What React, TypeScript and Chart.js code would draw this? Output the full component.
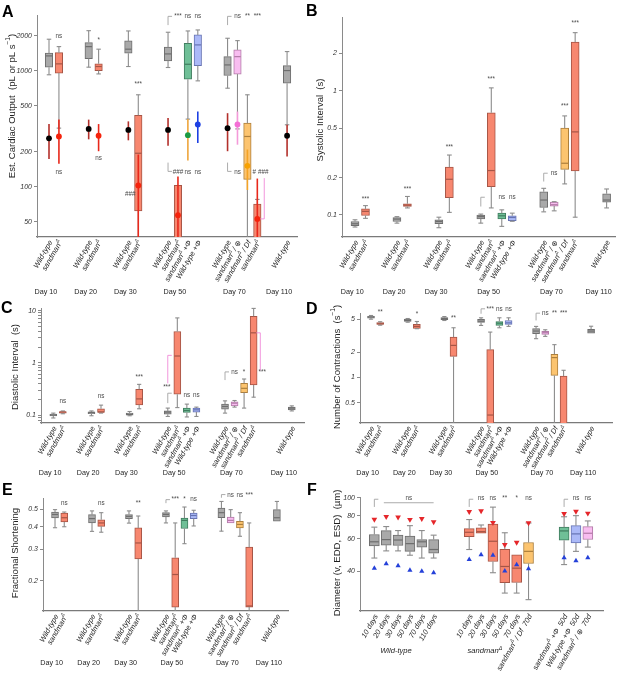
import React, { useEffect, useRef } from 'react';
import { Chart, registerables } from 'chart.js';

Chart.register(...registerables);

const FONT = '"Liberation Sans", Arial, Helvetica, "DejaVu Sans", sans-serif';
const _ = null;

// ---------- categories (shared by panels A, B, D, E) ----------
const DAY_CATS = ['Wild-type', 'sandman{Δ}', '', '', 'Wild-type', 'sandman{Δ}', '', '', 'Wild-type', 'sandman{Δ}', '', '',
  'Wild-type', 'sandman{Δ}', 'sandman{Δ} +Φ', 'Wild-type +Φ', '', '', 'Wild-type', 'sandman{Δ} / ⊕', 'sandman{Δ} / Df', 'sandman{Δ}', '', '', 'Wild-type'];
const DAY_GENO = ['wt', 'sand', _, _, 'wt', 'sand', _, _, 'wt', 'sand', _, _, 'wt', 'sand', 'sandPhi', 'wtPhi', _, _, 'wt', 'sandPlus', 'sandDf', 'sand', _, _, 'wt'];
const DAY_GROUPS = ['Day 10', 'Day 20', 'Day 30', 'Day 50', 'Day 70', 'Day 110'];
const DAY_G_FIRST = [0, 4, 8, 12, 18, 24];
const DAY_G_LAST = [1, 5, 9, 15, 21, 24];
// panel C has one extra gap before Day 110
const C_CATS = ['Wild-type', 'sandman{Δ}', '', '', 'Wild-type', 'sandman{Δ}', '', '', 'Wild-type', 'sandman{Δ}', '', '',
  'Wild-type', 'sandman{Δ}', 'sandman{Δ} +Φ', 'Wild-type +Φ', '', '', 'Wild-type', 'sandman{Δ} / ⊕', 'sandman{Δ} / Df', 'sandman{Δ}', '', '', '', 'Wild-type'];
const C_GENO = ['wt', 'sand', _, _, 'wt', 'sand', _, _, 'wt', 'sand', _, _, 'wt', 'sand', 'sandPhi', 'wtPhi', _, _, 'wt', 'sandPlus', 'sandDf', 'sand', _, _, _, 'wt'];
const C_G_FIRST = [0, 4, 8, 12, 18, 25];
const C_G_LAST = [1, 5, 9, 15, 21, 25];

// ---------- A: cardiac output (box) + stroke volume (dot) ----------
const A_TICKS = [50, 100, 200, 500, 1000, 2000];
const A_MIN = [925, 321, _, _, 1076, 941, _, _, 1090, 20, _, _, 1069, 20, 384, 820, _, _, 709, 316, 20, 20, _, _, 343];
const A_Q1 = [1076, 957, _, _, 1276, 1006, _, _, 1420, 62, _, _, 1221, 20, 848, 1110, _, _, 912, 938, 116, 20, _, _, 784];
const A_MED = [1346, 1149, _, _, 1618, 1090, _, _, 1538, 195, _, _, 1400, 25, 1140, 1674, _, _, 1125, 1326, 272, 25, _, _, 1006];
const A_Q3 = [1420, 1436, _, _, 1752, 1149, _, _, 1812, 414, _, _, 1600, 103, 1730, 2040, _, _, 1326, 1516, 354, 71, _, _, 1110];
const A_MAX = [1874, 1618, _, _, 2220, 1538, _, _, 2208, 622, _, _, 2152, 103, 2208, 2252, _, _, 1910, 1822, 622, 78, _, _, 1466];
const A_SV = [262, 272, _, _, 316, 276, _, _, 310, 103, _, _, 310, 57, 279, 345, _, _, 321, 345, 152, 53, _, _, 276];
const A_SV_LO = [174, 158, _, _, 257, 203, _, _, 252, 20, _, _, 226, 20, 169, 239, _, _, 203, 231, 94, 20, _, _, 183];
const A_SV_HI = [348, 380, _, _, 380, 348, _, _, 367, 190, _, _, 392, 123, 384, 446, _, _, 432, 446, 210, 118, _, _, 343];
const A_SIG_AT = [1, 5, 9, 13, 14, 15, 19, 20, 21, 1, 5, 8.2, 13, 14, 15, 19, 20.7, 21.6];
const A_SIG_V = [2000, 1822, 770, 2950, 2950, 2950, 2950, 2950, 2950, 133, 175, 86, 135, 135, 135, 133, 133, 133];
const A_SIG_T = ['ns', '*', '***', '***', 'ns', 'ns', 'ns', '**', '***', 'ns', 'ns', '###', '###', 'ns', 'ns', 'ns', '#', '###'];
const A_BR_AT = [12, 18, 12, 18, 21.7];
const A_BR_FROM = [2480, 2480, 162, 162, 119];
const A_BR_TO = [2950, 2950, 136, 136, 53];
const A_BR_DIR = [1, 1, 1, 1, -1];
const A_BR_KIND = ['g', 'g', 'g', 'g', 'p'];

// ---------- B: systolic interval ----------
const B_TICKS = [0.1, 0.2, 0.5, 1, 2];
const B_MIN = [0.080, 0.094, _, _, 0.086, 0.114, _, _, 0.079, 0.105, _, _, 0.086, 0.114, 0.081, 0.089, _, _, 0.106, 0.108, 0.178, 0.096, _, _, 0.114];
const B_Q1 = [0.082, 0.099, _, _, 0.0887, 0.117, _, _, 0.085, 0.138, _, _, 0.093, 0.169, 0.093, 0.090, _, _, 0.115, 0.118, 0.233, 0.226, _, _, 0.127];
const B_MED = [0.085, 0.107, _, _, 0.0927, 0.120, _, _, 0.0887, 0.194, _, _, 0.097, 0.228, 0.0985, 0.0955, _, _, 0.132, 0.121, 0.261, 0.467, _, _, 0.132];
const B_Q3 = [0.0887, 0.112, _, _, 0.0955, 0.123, _, _, 0.0915, 0.243, _, _, 0.100, 0.665, 0.1035, 0.0985, _, _, 0.154, 0.127, 0.500, 2.47, _, _, 0.148];
const B_MAX = [0.0915, 0.119, _, _, 0.097, 0.141, _, _, 0.096, 0.304, _, _, 0.1017, 1.056, 0.110, 0.1035, _, _, 0.164, 0.128, 0.628, 2.94, _, _, 0.162];
const B_SIG_AT = [1, 5, 9, 13, 14, 15, 19, 20, 21];
const B_SIG_V = [0.135, 0.162, 0.348, 1.25, 0.139, 0.139, 0.218, 0.753, 3.47];
const B_SIG_T = ['***', '***', '***', '***', 'ns', 'ns', 'ns', '***', '***'];
const B_BR_AT = [12, 18];
const B_BR_FROM = [0.117, 0.186];
const B_BR_TO = [0.139, 0.217];
const B_BR_DIR = [1, 1];
const B_BR_KIND = ['g', 'g'];

// ---------- C: diastolic interval ----------
const C_TICKS = [0.1, 1, 10];
const C_MINOR = [0.08, 0.09, 0.2, 0.3, 0.4, 0.5, 0.6, 0.7, 0.8, 0.9, 2, 3, 4, 5, 6, 7, 8, 9];
const C_MIN = [0.088, 0.106, _, _, 0.097, 0.109, _, _, 0.097, 0.132, _, _, 0.094, 0.139, 0.092, 0.094, _, _, 0.109, 0.142, 0.136, 0.22, _, _, _, 0.12];
const C_Q1 = [0.096, 0.109, _, _, 0.106, 0.112, _, _, 0.1, 0.157, _, _, 0.104, 0.25, 0.112, 0.114, _, _, 0.13, 0.15, 0.269, 0.376, _, _, _, 0.126];
const C_MED = [0.1, 0.114, _, _, 0.112, 0.115, _, _, 0.103, 0.204, _, _, 0.114, 1.35, 0.122, 0.126, _, _, 0.146, 0.169, 0.325, 3.75, _, _, _, 0.136];
const C_Q3 = [0.105, 0.117, _, _, 0.115, 0.132, _, _, 0.109, 0.311, _, _, 0.12, 3.98, 0.136, 0.136, _, _, 0.162, 0.18, 0.405, 7.8, _, _, _, 0.142];
const C_MAX = [0.109, 0.12, _, _, 0.12, 0.155, _, _, 0.117, 0.387, _, _, 0.136, 7.24, 0.162, 0.142, _, _, 0.187, 0.19, 0.49, 11.0, _, _, _, 0.15];
const C_SIG_AT = [1, 5, 9, 11.9, 14, 15, 19, 20, 21.9];
const C_SIG_V = [0.181, 0.225, 0.54, 0.34, 0.243, 0.243, 0.67, 0.67, 0.67];
const C_SIG_T = ['ns', 'ns', '***', '***', 'ns', 'ns', 'ns', '*', '***'];
const C_BR_AT = [12, 12, 18, 21.7];
const C_BR_FROM = [0.405, 0.169, 0.468, 0.72];
const C_BR_TO = [1.39, 0.262, 0.67, 3.75];
const C_BR_DIR = [1, 1, 1, -1];
const C_BR_KIND = ['p', 'g', 'g', 'p'];

// ---------- D: number of contractions ----------
const D_TICKS = [0.5, 1, 2, 5];
const D_MIN = [4.98, 4.22, _, _, 4.58, 3.83, _, _, 4.8, 0.2, _, _, 4.19, 0.2, 3.93, 4.08, _, _, 2.91, 3.1, 0.2, 0.2, _, _, 3.39];
const D_Q1 = [5.13, 4.31, _, _, 4.67, 3.86, _, _, 4.9, 1.79, _, _, 4.54, 0.2, 4.19, 4.31, _, _, 3.34, 3.27, 1.06, 0.2, _, _, 3.39];
const D_MED = [5.27, 4.39, _, _, 4.8, 4.08, _, _, 5.07, 2.42, _, _, 4.71, 0.356, 4.46, 4.5, _, _, 3.59, 3.43, 1.73, 0.25, _, _, 3.59];
const D_Q3 = [5.4, 4.54, _, _, 4.98, 4.31, _, _, 5.21, 3.04, _, _, 4.94, 2.15, 4.67, 4.8, _, _, 3.83, 3.56, 1.89, 1.04, _, _, 3.76];
const D_MAX = [5.51, 4.64, _, _, 5.07, 4.67, _, _, 5.35, 3.93, _, _, 5.17, 3.49, 5.17, 5.17, _, _, 4.08, 3.72, 2.47, 1.22, _, _, 4.1];
const D_SIG_AT = [1, 5, 9, 13, 14, 15, 19, 20, 21];
const D_SIG_V = [5.94, 5.66, 5.07, 6.62, 6.62, 6.62, 5.87, 5.87, 5.87];
const D_SIG_T = ['**', '*', '**', '***', 'ns', 'ns', 'ns', '**', '***'];
const D_BR_AT = [12, 18];
const D_BR_FROM = [5.78, 4.81];
const D_BR_TO = [6.62, 5.87];
const D_BR_DIR = [1, 1];
const D_BR_KIND = ['g', 'g'];

// ---------- E: fractional shortening ----------
const E_TICKS = [0.2, 0.3, 0.4, 0.5];
const E_MIN = [0.395, 0.4, _, _, 0.377, 0.373, _, _, 0.419, 0.1, _, _, 0.42, 0.1, 0.322, 0.404, _, _, 0.378, 0.42, 0.354, 0.1, _, _, 0.43];
const E_Q1 = [0.448, 0.425, _, _, 0.42, 0.402, _, _, 0.444, 0.265, _, _, 0.453, 0.143, 0.391, 0.444, _, _, 0.449, 0.42, 0.394, 0.143, _, _, 0.43];
const E_MED = [0.468, 0.449, _, _, 0.444, 0.42, _, _, 0.457, 0.325, _, _, 0.468, 0.217, 0.434, 0.462, _, _, 0.479, 0.434, 0.412, 0.145, _, _, 0.449];
const E_Q3 = [0.483, 0.477, _, _, 0.467, 0.437, _, _, 0.468, 0.394, _, _, 0.479, 0.269, 0.447, 0.477, _, _, 0.508, 0.453, 0.429, 0.308, _, _, 0.498];
const E_MAX = [0.498, 0.483, _, _, 0.49, 0.479, _, _, 0.49, 0.459, _, _, 0.49, 0.42, 0.515, 0.494, _, _, 0.553, 0.498, 0.479, 0.42, _, _, 0.553];
const E_SIG_AT = [1, 5, 9, 13, 14, 15, 19, 20, 21];
const E_SIG_V = [0.541, 0.541, 0.537, 0.566, 0.566, 0.566, 0.598, 0.598, 0.598];
const E_SIG_T = ['ns', 'ns', '**', '***', '*', 'ns', 'ns', 'ns', '***'];
const E_BR_AT = [12, 18];
const E_BR_FROM = [0.541, 0.58];
const E_BR_TO = [0.566, 0.604];
const E_BR_DIR = [1, 1];
const E_BR_KIND = ['g', 'g'];

// ---------- F: diameters ----------
const F_CATS = ['10 days', '20 days', '30 days', '50 days', '70 days', '110 days', '', '', '10 days', '20 days', '30 days', '50 days', '70 days',
  'sandman{Δ} / Df  70d', '', '', 'sandman{Δ} +Φ  50d', 'Wild-type +Φ  50d', 'sandman{Δ} / ⊕  70d'];
const F_GENO = ['wt', 'wt', 'wt', 'wt', 'wt', 'wt', _, _, 'sand', 'sand', 'sand', 'sand', 'sand', 'sandDf', _, _, 'sandPhi', 'wtPhi', 'sandPlus'];
const F_GROUPS = ['Wild-type', 'sandman{Δ}'];
const F_G_FIRST = [0, 8];
const F_G_LAST = [5, 12];
const F_TICKS = [40, 60, 80, 100];
const F_MIN = [47.1, 51.5, 51.5, 48.8, 47.1, 47.1, _, _, 52.4, 64.3, 39.2, 30.4, 30.4, 28.0, _, _, 43.4, 51.2, 54.0];
const F_Q1 = [54.8, 55.4, 55.1, 51.2, 54.0, 50.0, _, _, 61.5, 64.3, 45.1, 34.6, 34.7, 44.0, _, _, 58.8, 56.9, 59.4];
const F_MED = [57.7, 59.3, 59.0, 56.4, 57.7, 52.4, _, _, 65.0, 65.5, 58.1, 42.4, 41.5, 51.2, _, _, 66.1, 63.7, 64.2];
const F_Q3 = [63.2, 66.4, 62.7, 61.9, 59.3, 59.3, _, _, 68.0, 68.7, 71.9, 52.5, 49.1, 57.2, _, _, 69.3, 70.6, 69.8];
const F_MAX = [69.3, 69.8, 66.4, 70.6, 66.4, 62.7, _, _, 76.2, 71.2, 89.0, 64.6, 49.1, 73.0, _, _, 78.9, 80.0, 74.9];
const F_EDD = [76.4, 78.9, 78.5, 76.2, 77.1, 73.9, _, _, 84.0, 84.9, 73.2, 55.6, 57.2, 73.0, _, _, 81.9, 84.3, 82.4];
const F_ESD = [41.5, 43.8, 42.8, 40.4, 39.9, 39.2, _, _, 46.3, 49.1, 48.7, 40.0, 43.3, 41.2, _, _, 47.3, 45.6, 47.2];
const F_SIG_AT = [2.9, 9, 10, 11, 12, 13, 17, 18];
const F_SIG_V = [100, 100, 100, 100, 100, 100, 100, 100];
const F_SIG_T = ['ns', 'ns', 'ns', '**', '*', 'ns', 'ns', 'ns'];
const F_BR_AT = [0, 8, 16];
const F_BR_FROM = [89.2, 89.2, 89.2];
const F_BR_TO = [98.2, 98.2, 98.2];
const F_BR_DIR = [1, 1, 1];
const F_BR_KIND = ['g', 'g', 'g'];
const F_LINE_FROM = [0.8];
const F_LINE_TO = [5];
const F_LINE_V = [94];

// ---------- styles ----------
const GENO_STYLE: any = {
  wt: { fill: '#a9a9a9', border: '#6e6e6e', dot: '#000000', err: '#b3302b' },
  sand: { fill: '#f7876f', border: '#a65546', dot: '#f5230c', err: '#e8281b' },
  sandPhi: { fill: '#6fbf97', border: '#3f7c5e', dot: '#1c9a43', err: '#eea53c' },
  wtPhi: { fill: '#abb9f7', border: '#6673b3', dot: '#1d40e3', err: '#1d40e3' },
  sandPlus: { fill: '#f8bdf0', border: '#b27aa7', dot: '#f46fd5', err: '#f49ad9' },
  sandDf: { fill: '#fcc46f', border: '#ad7f3c', dot: '#f7a102', err: '#f4a326' },
};
const BR_COLOR: any = { g: '#a3a3a3', p: '#f08ad8' };
const WHISKER = '#8c8c8c';

function richParts(t: string) {
  const out: { t: string; sup: boolean }[] = [];
  const re = /\{([^}]*)\}/g;
  let last = 0;
  let m: any;
  while ((m = re.exec(t))) {
    if (m.index > last) out.push({ t: t.slice(last, m.index), sup: false });
    out.push({ t: m[1], sup: true });
    last = re.lastIndex;
  }
  if (last < t.length) out.push({ t: t.slice(last), sup: false });
  return out;
}

function drawRich(ctx: any, text: string, x: number, y: number, angle: number, size: number, italic: boolean, align: string) {
  const parts = richParts(text);
  const font = (s: number) => `${italic ? 'italic ' : ''}${s}px ${FONT}`;
  ctx.save();
  ctx.translate(x, y);
  ctx.rotate(angle);
  ctx.textAlign = 'left';
  ctx.textBaseline = 'middle';
  const widths = parts.map((p) => { ctx.font = font(p.sup ? size * 0.7 : size); return ctx.measureText(p.t).width; });
  const total = widths.reduce((a, b) => a + b, 0);
  let cx = align === 'right' ? -total : align === 'center' ? -total / 2 : 0;
  parts.forEach((p, i) => {
    ctx.font = font(p.sup ? size * 0.7 : size);
    ctx.fillText(p.t, cx, p.sup ? -size * 0.38 : 0);
    cx += widths[i];
  });
  ctx.restore();
}

function line(ctx: any, x1: number, y1: number, x2: number, y2: number) {
  ctx.beginPath();
  ctx.moveTo(x1, y1);
  ctx.lineTo(x2, y2);
  ctx.stroke();
}

const PANELS: any[] = [
  {
    letter: 'A', left: 0, top: 0, w: 305, h: 300, yW: 37, padT: 15, padR: 8, padB: 63,
    xMin: -1.21, xMax: 25.0, yMin: 37, yMax: 3030, ticks: A_TICKS, minor: [],
    cats: DAY_CATS, geno: DAY_GENO, min: A_MIN, q1: A_Q1, med: A_MED, q3: A_Q3, max: A_MAX, barW: 7.5,
    dot: A_SV, dotLo: A_SV_LO, dotHi: A_SV_HI,
    sigAt: A_SIG_AT, sigV: A_SIG_V, sigT: A_SIG_T,
    brAt: A_BR_AT, brFrom: A_BR_FROM, brTo: A_BR_TO, brDir: A_BR_DIR, brKind: A_BR_KIND,
    groups: DAY_GROUPS, gFirst: DAY_G_FIRST, gLast: DAY_G_LAST, groupY: 292, groupItalic: false,
    title: 'Est. Cardiac Output  (pL or pL s{−1})', titleX: 12, titleY: 106,
  },
  {
    letter: 'B', left: 305, top: 0, w: 312, h: 300, yW: 37, padT: 17, padR: 2, padB: 63,
    xMin: -1.24, xMax: 24.8, yMin: 0.0665, yMax: 3.93, ticks: B_TICKS, minor: [],
    cats: DAY_CATS, geno: DAY_GENO, min: B_MIN, q1: B_Q1, med: B_MED, q3: B_Q3, max: B_MAX, barW: 8,
    sigAt: B_SIG_AT, sigV: B_SIG_V, sigT: B_SIG_T,
    brAt: B_BR_AT, brFrom: B_BR_FROM, brTo: B_BR_TO, brDir: B_BR_DIR, brKind: B_BR_KIND,
    groups: DAY_GROUPS, gFirst: DAY_G_FIRST, gLast: DAY_G_LAST, groupY: 292, groupItalic: false,
    title: 'Systolic Interval  (s)', titleX: 15, titleY: 120,
  },
  {
    letter: 'C', left: 0, top: 300, w: 305, h: 180, yW: 41, padT: 8, padR: 1, padB: 57,
    xMin: -1.29, xMax: 26.28, yMin: 0.0705, yMax: 11.2, ticks: C_TICKS, minor: C_MINOR,
    cats: C_CATS, geno: C_GENO, min: C_MIN, q1: C_Q1, med: C_MED, q3: C_Q3, max: C_MAX, barW: 7,
    sigAt: C_SIG_AT, sigV: C_SIG_V, sigT: C_SIG_T,
    brAt: C_BR_AT, brFrom: C_BR_FROM, brTo: C_BR_TO, brDir: C_BR_DIR, brKind: C_BR_KIND,
    groups: DAY_GROUPS, gFirst: C_G_FIRST, gLast: C_G_LAST, groupY: 173, groupItalic: false,
    title: 'Diastolic Interval  (s)', titleX: 15, titleY: 67,
  },
  {
    letter: 'D', left: 305, top: 300, w: 312, h: 180, yW: 55, padT: 13, padR: 5, padB: 57,
    xMin: -1.2, xMax: 26.28, yMin: 0.286, yMax: 5.9, ticks: D_TICKS, minor: [],
    cats: DAY_CATS, geno: DAY_GENO, min: D_MIN, q1: D_Q1, med: D_MED, q3: D_Q3, max: D_MAX, barW: 7,
    sigAt: D_SIG_AT, sigV: D_SIG_V, sigT: D_SIG_T,
    brAt: D_BR_AT, brFrom: D_BR_FROM, brTo: D_BR_TO, brDir: D_BR_DIR, brKind: D_BR_KIND,
    groups: DAY_GROUPS, gFirst: DAY_G_FIRST, gLast: DAY_G_LAST, groupY: 173, groupItalic: false,
    title: 'Number of Contractions  (s{−1})', titleX: 32, titleY: 67,
  },
  {
    letter: 'E', left: 0, top: 480, w: 305, h: 194, yW: 43, padT: 18, padR: 17, padB: 63,
    xMin: -1.3, xMax: 25.2, yMin: 0.136, yMax: 0.578, ticks: E_TICKS, minor: [],
    cats: DAY_CATS, geno: DAY_GENO, min: E_MIN, q1: E_Q1, med: E_MED, q3: E_Q3, max: E_MAX, barW: 7,
    sigAt: E_SIG_AT, sigV: E_SIG_V, sigT: E_SIG_T,
    brAt: E_BR_AT, brFrom: E_BR_FROM, brTo: E_BR_TO, brDir: E_BR_DIR, brKind: E_BR_KIND,
    groups: DAY_GROUPS, gFirst: DAY_G_FIRST, gLast: DAY_G_LAST, groupY: 183, groupItalic: false,
    title: 'Fractional Shortening', titleX: 15, titleY: 73,
  },
  {
    letter: 'F', left: 305, top: 480, w: 312, h: 194, yW: 55, padT: 17, padR: 14, padB: 63,
    xMin: -1.21, xMax: 19.28, yMin: 24.3, yMax: 101, ticks: F_TICKS, minor: [],
    cats: F_CATS, geno: F_GENO, min: F_MIN, q1: F_Q1, med: F_MED, q3: F_Q3, max: F_MAX, barW: 10,
    triDown: F_EDD, triUp: F_ESD,
    sigAt: F_SIG_AT, sigV: F_SIG_V, sigT: F_SIG_T,
    brAt: F_BR_AT, brFrom: F_BR_FROM, brTo: F_BR_TO, brDir: F_BR_DIR, brKind: F_BR_KIND,
    lineFrom: F_LINE_FROM, lineTo: F_LINE_TO, lineV: F_LINE_V,
    groups: F_GROUPS, gFirst: F_G_FIRST, gLast: F_G_LAST, groupY: 171, groupItalic: true,
    title: 'Diameter (v, EDD, ESD)  (µm)', titleX: 32, titleY: 73,
  },
];

function makePlugin(s: any) {
  return {
    id: 'boxplot' + s.letter,
    afterDatasetDraw(chart: any, args: any) {
      if (args.index !== 0) return;
      const { ctx, chartArea: a } = chart;
      const xs = chart.scales.x;
      const ys = chart.scales.y;
      ctx.save();
      ctx.beginPath();
      ctx.rect(a.left, a.top - 3, a.right - a.left, a.bottom - a.top + 3);
      ctx.clip();
      const half = s.barW / 2;
      const cap = s.barW * 0.3;
      s.cats.forEach((c: string, i: number) => {
        if (s.q1[i] == null) return;
        const st = GENO_STYLE[s.geno[i]];
        const px = xs.getPixelForValue(i);
        const yq1 = ys.getPixelForValue(s.q1[i]);
        const yq3 = ys.getPixelForValue(s.q3[i]);
        const ymin = ys.getPixelForValue(s.min[i]);
        const ymax = ys.getPixelForValue(s.max[i]);
        const ymed = ys.getPixelForValue(s.med[i]);
        ctx.strokeStyle = WHISKER;
        ctx.lineWidth = 1.1;
        if (s.max[i] > s.q3[i]) { line(ctx, px, yq3, px, ymax); line(ctx, px - cap, ymax, px + cap, ymax); }
        if (s.min[i] < s.q1[i]) { line(ctx, px, yq1, px, ymin); line(ctx, px - cap, ymin, px + cap, ymin); }
        ctx.strokeStyle = st.border;
        ctx.lineWidth = 1.2;
        line(ctx, px - half + 0.5, ymed, px + half - 0.5, ymed);
      });
      if (s.dot) {
        s.cats.forEach((c: string, i: number) => {
          if (s.dot[i] == null) return;
          const st = GENO_STYLE[s.geno[i]];
          const px = xs.getPixelForValue(i);
          ctx.strokeStyle = st.err;
          ctx.lineWidth = 1.6;
          line(ctx, px, ys.getPixelForValue(s.dotLo[i]), px, ys.getPixelForValue(s.dotHi[i]));
        });
      }
      ctx.restore();
    },
    afterDraw(chart: any) {
      const { ctx, chartArea: a } = chart;
      const xs = chart.scales.x;
      const ys = chart.scales.y;
      ctx.save();
      // category labels
      ctx.fillStyle = '#1e1e1e';
      s.cats.forEach((c: string, i: number) => {
        if (!c) return;
        drawRich(ctx, c, xs.getPixelForValue(i) + 2, a.bottom + 4, -60 * Math.PI / 180, 7.4, true, 'right');
      });
      // group labels
      s.groups.forEach((g: string, k: number) => {
        const cx = (xs.getPixelForValue(s.gFirst[k]) + xs.getPixelForValue(s.gLast[k])) / 2 - 8;
        drawRich(ctx, g, cx, s.groupY, 0, s.groupItalic ? 7.6 : 7.2, s.groupItalic, 'center');
      });
      // brackets
      ctx.lineWidth = 0.9;
      s.brAt.forEach((at: number, k: number) => {
        const px = xs.getPixelForValue(at);
        const y1 = ys.getPixelForValue(s.brFrom[k]);
        const y2 = ys.getPixelForValue(s.brTo[k]);
        ctx.strokeStyle = BR_COLOR[s.brKind[k]];
        ctx.beginPath();
        ctx.moveTo(px, y1);
        ctx.lineTo(px, y2);
        ctx.lineTo(px + 4 * s.brDir[k], y2);
        ctx.stroke();
      });
      if (s.lineFrom) {
        ctx.strokeStyle = BR_COLOR.g;
        s.lineFrom.forEach((f: number, k: number) => {
          const yy = ys.getPixelForValue(s.lineV[k]);
          line(ctx, xs.getPixelForValue(f), yy, xs.getPixelForValue(s.lineTo[k]), yy);
        });
      }
      // significance marks
      ctx.fillStyle = '#4a4a4a';
      ctx.font = `6.3px ${FONT}`;
      ctx.textAlign = 'center';
      ctx.textBaseline = 'middle';
      s.sigAt.forEach((at: number, k: number) => {
        ctx.fillText(s.sigT[k], xs.getPixelForValue(at), ys.getPixelForValue(s.sigV[k]));
      });
      // axis title
      ctx.fillStyle = '#1e1e1e';
      drawRich(ctx, s.title, s.titleX, s.titleY, -Math.PI / 2, 9.5, false, 'center');
      ctx.restore();
    },
  };
}

function buildConfig(s: any) {
  const idx = s.cats.map((c: string, i: number) => i).filter((i: number) => s.q1[i] != null);
  const datasets: any[] = [
    {
      type: 'bar',
      data: idx.map((i: number) => ({ x: i, y: [s.q1[i], s.q3[i]] })),
      backgroundColor: idx.map((i: number) => GENO_STYLE[s.geno[i]].fill),
      borderColor: idx.map((i: number) => GENO_STYLE[s.geno[i]].border),
      borderWidth: 1,
      borderSkipped: false,
      barThickness: s.barW,
      clip: 0,
      order: 3,
    },
  ];
  if (s.dot) {
    const di = idx.filter((i: number) => s.dot[i] != null);
    datasets.push({
      type: 'scatter',
      data: di.map((i: number) => ({ x: i, y: s.dot[i] })),
      pointBackgroundColor: di.map((i: number) => GENO_STYLE[s.geno[i]].dot),
      pointBorderWidth: 0,
      pointRadius: 2.9,
      order: 1,
    });
  }
  if (s.triDown) {
    const ti = idx.filter((i: number) => s.triDown[i] != null);
    datasets.push({
      type: 'scatter',
      data: ti.map((i: number) => ({ x: i, y: s.triDown[i] })),
      pointStyle: 'triangle',
      pointRotation: 180,
      pointBackgroundColor: '#e5262a',
      pointBorderWidth: 0,
      pointRadius: 3.3,
      order: 1,
    });
    datasets.push({
      type: 'scatter',
      data: ti.map((i: number) => ({ x: i, y: s.triUp[i] })),
      pointStyle: 'triangle',
      pointBackgroundColor: '#2541d9',
      pointBorderWidth: 0,
      pointRadius: 3,
      order: 2,
    });
  }
  const allTicks = [...s.ticks, ...s.minor].sort((p: number, q: number) => p - q);
  return {
    type: 'bar',
    data: { datasets },
    plugins: [makePlugin(s)],
    options: {
      responsive: false,
      animation: false,
      events: [],
      layout: { padding: { left: 0, top: s.padT, right: s.padR, bottom: s.padB } },
      plugins: { legend: { display: false }, tooltip: { enabled: false } },
      scales: {
        x: {
          type: 'linear', min: s.xMin, max: s.xMax, offset: false,
          ticks: { display: false },
          grid: { display: false, drawTicks: false },
          border: { display: true, color: '#7a7a7a', width: 1.3 },
          afterFit: (sc: any) => { sc.height = 0; },
        },
        y: {
          type: 'logarithmic', min: s.yMin, max: s.yMax,
          afterFit: (sc: any) => { sc.width = s.yW; },
          afterBuildTicks: (sc: any) => { sc.ticks = allTicks.map((v: number) => ({ value: v })); },
          ticks: {
            autoSkip: false,
            padding: 2,
            color: '#333',
            font: { family: FONT, size: 7, style: 'italic' },
            callback: (v: number) => (s.ticks.includes(v) ? String(v) : ''),
          },
          grid: { display: true, drawOnChartArea: false, drawTicks: true, tickLength: 3, tickColor: '#8a8a8a', color: '#8a8a8a' },
          border: { display: true, color: '#8a8a8a', width: 1 },
        },
      },
    },
  };
}

function Panel({ spec }: { spec: any }) {
  const ref = useRef<HTMLCanvasElement>(null);
  useEffect(() => {
    if (!ref.current) return;
    const chart = new Chart(ref.current, buildConfig(spec) as any);
    return () => chart.destroy();
  }, [spec]);
  return (
    <canvas
      ref={ref}
      width={spec.w}
      height={spec.h}
      style={{ position: 'absolute', left: spec.left, top: spec.top, width: spec.w, height: spec.h }}
    />
  );
}

const LETTER_POS: any = { A: [2, 4], B: [306, 3], C: [1, 300], D: [306, 301], E: [2, 482], F: [307, 482] };

export default function App() {
  return (
    <div style={{ position: 'fixed', left: 0, top: 0, width: 617, height: 674, background: '#ffffff', overflow: 'hidden' }}>
      {PANELS.map((p) => <Panel key={p.letter} spec={p} />)}
      {PANELS.map((p) => (
        <div
          key={'L' + p.letter}
          style={{
            position: 'absolute', left: LETTER_POS[p.letter][0], top: LETTER_POS[p.letter][1],
            fontFamily: FONT, fontWeight: 'bold', fontSize: 16, lineHeight: '16px', color: '#000',
          }}
        >
          {p.letter}
        </div>
      ))}
    </div>
  );
}
